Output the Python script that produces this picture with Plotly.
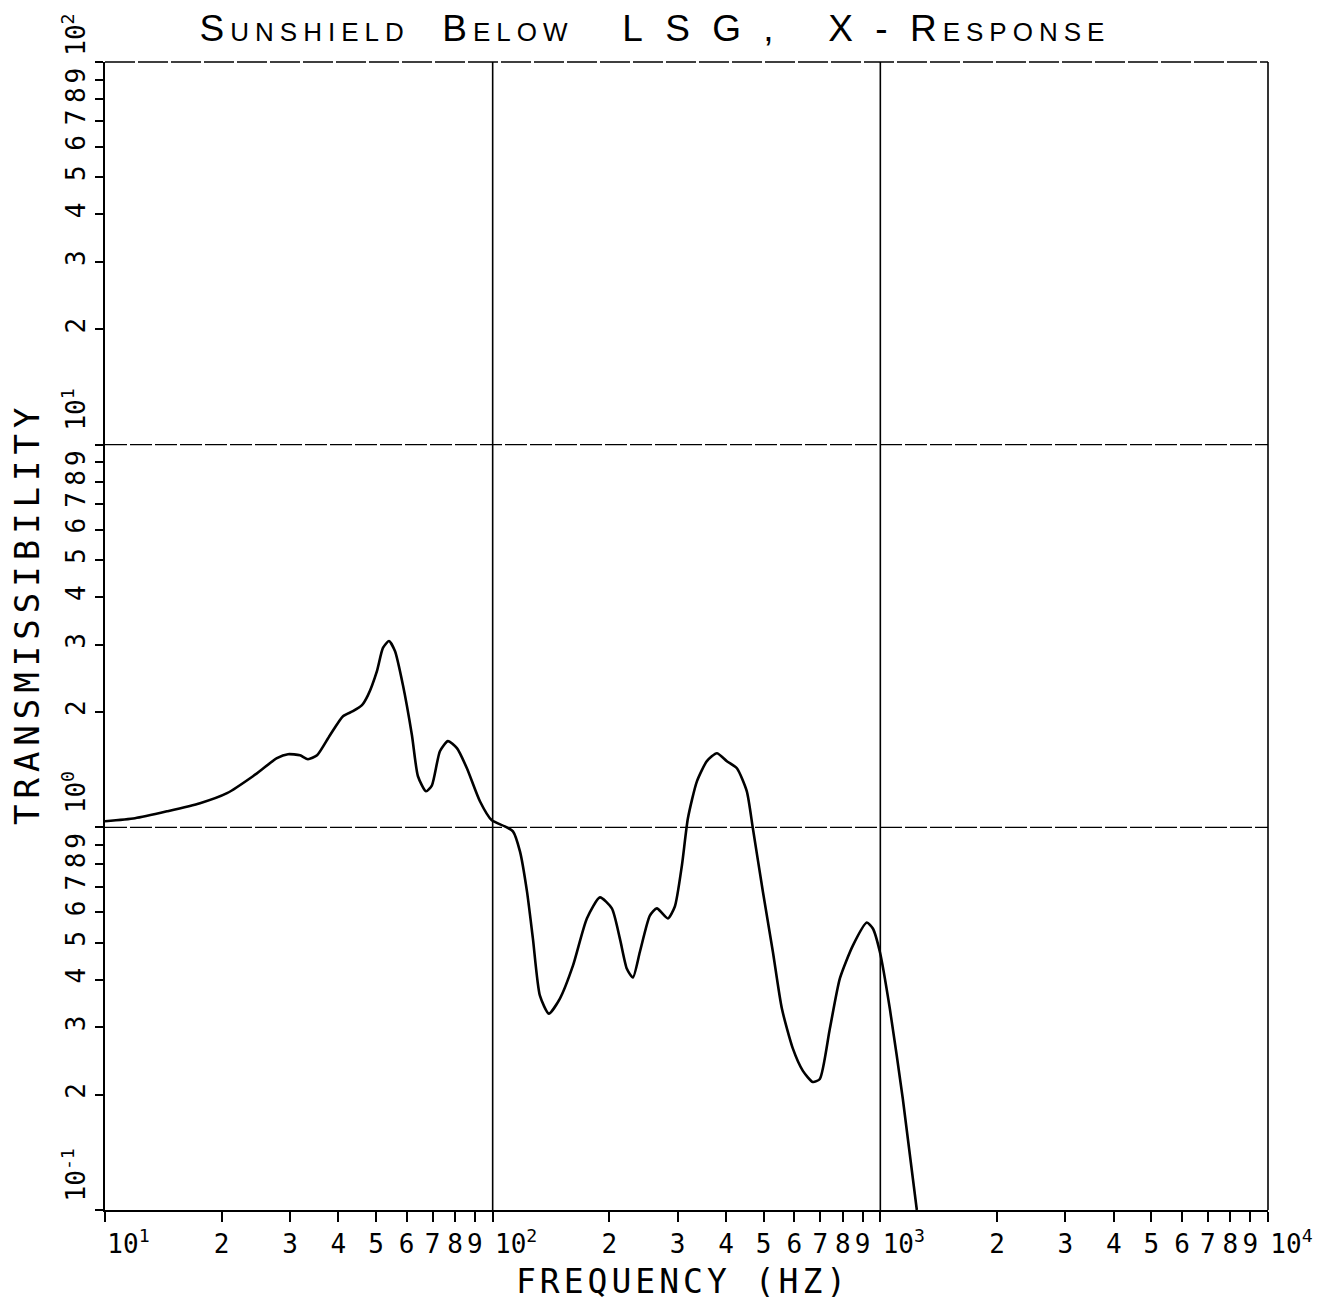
import plotly.graph_objects as go

# Data (frequency in Hz, transmissibility)
freq_hz = [10.0, 11.95, 14.45, 17.58, 20.64, 24.08, 27.77, 29.65, 31.84, 33.38,
           35.24, 38.05, 41.11, 43.61, 46.01, 47.69, 50.29, 52.12, 54.01, 55.97,
           58.68, 61.91, 64.16, 67.29, 69.72, 73.11, 76.66, 80.87, 85.81, 92.71,
           99.5, 107.5, 112.8, 117.6, 122.6, 127.0, 132.4, 139.6, 149.1, 161.1,
           175.0, 189.1, 203.0, 212.9, 221.9, 230.0, 239.8, 254.4, 265.2, 283.1,
           295.1, 307.7, 318.9, 336.4, 356.9, 378.7, 402.0, 426.6, 452.5, 469.0,
           497.7, 528.2, 557.2, 594.9, 631.3, 669.9, 698.2, 741.0, 786.4, 849.4,
           922.9, 956.5, 997.1, 1058.0, 1143.0, 1242.0]
transmissibility = [1.037, 1.056, 1.101, 1.156, 1.228, 1.360, 1.516, 1.553, 1.543, 1.507,
                    1.543, 1.741, 1.952, 2.012, 2.086, 2.216, 2.561, 2.943, 3.068, 2.889,
                    2.354, 1.741, 1.360, 1.242, 1.288, 1.581, 1.680, 1.610, 1.427, 1.170,
                    1.043, 1.006, 0.976, 0.865, 0.680, 0.512, 0.363, 0.326, 0.357, 0.435,
                    0.578, 0.656, 0.614, 0.512, 0.427, 0.405, 0.473, 0.588, 0.614, 0.578,
                    0.621, 0.795, 1.056, 1.319, 1.489, 1.562, 1.489, 1.427, 1.242, 0.994,
                    0.680, 0.473, 0.336, 0.264, 0.231, 0.216, 0.220, 0.298, 0.403, 0.491,
                    0.564, 0.544, 0.473, 0.336, 0.195, 0.100]

NB = "\u00a0"
x_tickvals, x_ticktext = [], []
for e in [1, 2, 3]:
    for m in range(1, 10):
        x_tickvals.append(m * 10 ** e)
        x_ticktext.append(NB * 3 + f"10<sup>{e}</sup>" if m == 1 else str(m))
x_tickvals.append(10 ** 4)
x_ticktext.append(NB * 3 + "10<sup>4</sup>")

y_tickvals, y_ticktext = [], []
for e in [-1, 0, 1]:
    for m in range(1, 10):
        y_tickvals.append(m * 10.0 ** e)
        y_ticktext.append(NB * 4 + f"10<sup>{e}</sup>" if m == 1 else str(m))
y_tickvals.append(100.0)
y_ticktext.append(NB * 3 + "10<sup>2</sup>")

x_grid = [100, 1000]
y_grid = [1, 10]

mono = "DejaVu Sans Mono"
title_text = ('<span style="letter-spacing:6px">Sunshield' + NB * 2 + 'Below' + NB * 3 +
              'L' + NB + 'S' + NB + 'G' + NB + ',' + NB * 3 + 'X' + NB + '-' + NB + 'Response</span>')

fig = go.Figure()
fig.add_trace(go.Scatter(
    x=freq_hz, y=transmissibility, mode="lines",
    line=dict(color="black", width=2.6, shape="spline", smoothing=0.6),
    showlegend=False, hoverinfo="skip"))

shapes = []
for xv in x_grid:
    shapes.append(dict(type="line", xref="x", yref="paper", x0=xv, x1=xv, y0=0, y1=1,
                       line=dict(color="black", width=1.6)))
for yv in y_grid:
    shapes.append(dict(type="line", xref="paper", yref="y", x0=0, x1=1, y0=yv, y1=yv,
                       line=dict(color="black", width=1.4, dash="22px,3px")))
shapes.append(dict(type="line", xref="paper", yref="paper", x0=1, x1=1, y0=0, y1=1,
                   line=dict(color="black", width=1.6)))
shapes.append(dict(type="line", xref="paper", yref="paper", x0=0, x1=1, y0=1, y1=1,
                   line=dict(color="black", width=1.6, dash="30px,3px")))

fig.update_layout(
    width=1311, height=1290, autosize=False,
    margin=dict(l=97, r=51, t=54, b=88, autoexpand=False),
    paper_bgcolor="white", plot_bgcolor="white",
    shapes=shapes,
    title=dict(text=title_text, x=0.4935, xanchor="center", y=0.9845, yanchor="middle",
               automargin=False,
               font=dict(family="Liberation Sans", size=37, color="black", variant="small-caps")),
    xaxis=dict(type="log", range=[1, 4], tickvals=x_tickvals, ticktext=x_ticktext,
               showgrid=False, zeroline=False, showline=True, linecolor="black", linewidth=2,
               ticks="outside", ticklen=10, tickwidth=1.6, tickcolor="black",
               ticklabeloverflow="allow", automargin=False,
               tickfont=dict(family=mono, size=26, color="black"), tickangle=0),
    yaxis=dict(type="log", range=[-1, 2], tickvals=y_tickvals, ticktext=y_ticktext,
               showgrid=False, zeroline=False, showline=True, linecolor="black", linewidth=2,
               ticks="outside", ticklen=8, tickwidth=1.6, tickcolor="black",
               ticklabeloverflow="allow", automargin=False,
               tickfont=dict(family=mono, size=26, color="black"), tickangle=-90),
    annotations=[
        dict(text='<span style="letter-spacing:4px">FREQUENCY' + NB + '(HZ)</span>',
             xref="paper", yref="paper", x=0.497, y=0,
             yshift=-71, xanchor="center", yanchor="middle", showarrow=False,
             font=dict(family=mono, size=33, color="black")),
        dict(text='<span style="letter-spacing:6px">TRANSMISSIBILITY</span>',
             xref="paper", yref="paper", x=0, y=0.52,
             xshift=-78, xanchor="center", yanchor="middle", showarrow=False, textangle=-90,
             font=dict(family=mono, size=34, color="black")),
    ],
)

fig.write_html("out.html")
